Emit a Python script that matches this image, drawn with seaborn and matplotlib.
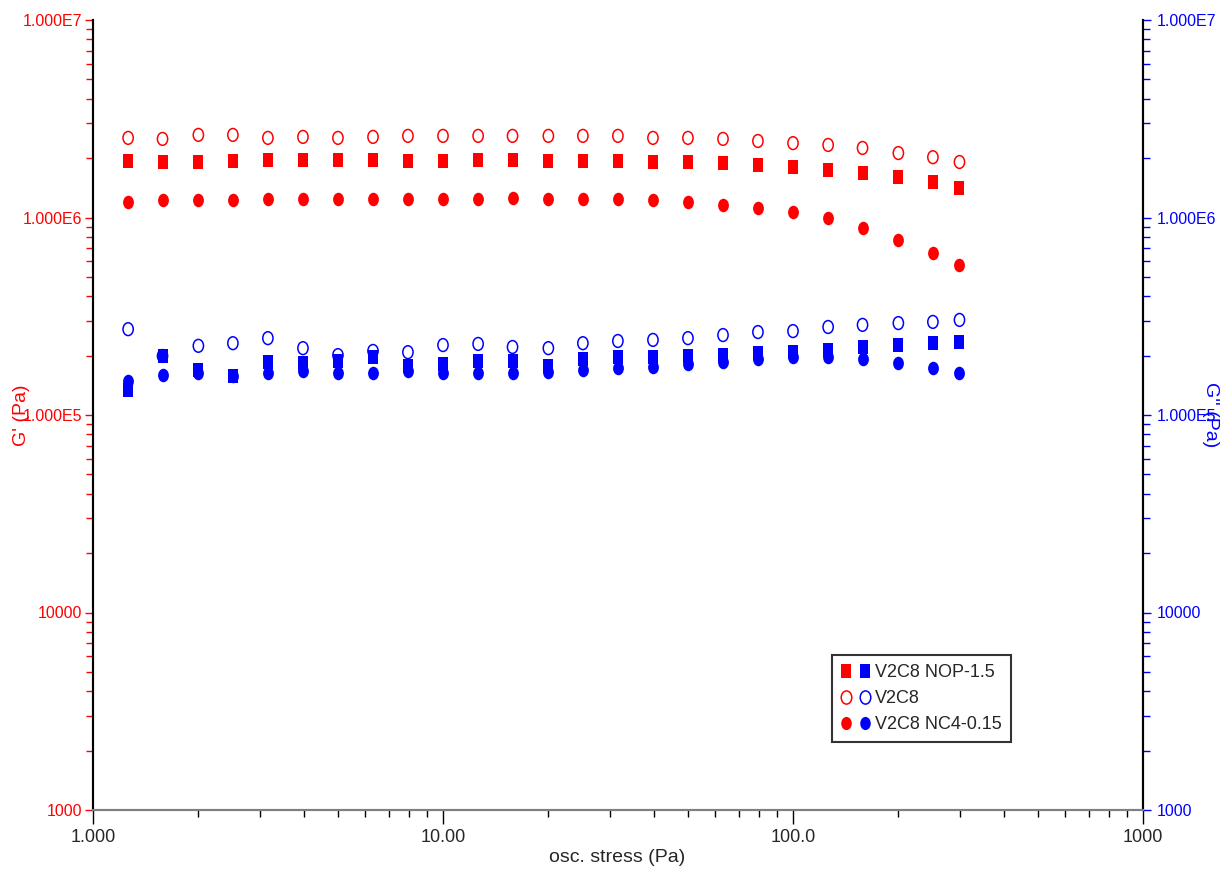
import numpy as np
import pandas as pd
import matplotlib
matplotlib.use("Agg")
import matplotlib.pyplot as plt
import matplotlib.ticker as mticker
from matplotlib.path import Path
from matplotlib.lines import Line2D
from matplotlib.legend_handler import HandlerTuple
import seaborn as sns

# oscillation stress (Pa)
stress = [1.26, 1.58, 2.00, 2.51, 3.16, 3.98, 5.01, 6.31, 7.94, 10.0,
          12.6, 15.8, 20.0, 25.1, 31.6, 39.8, 50.1, 63.1, 79.4, 100.0,
          126.0, 158.0, 200.0, 251.0, 299.0]

samples = ["V2C8 NOP-1.5", "V2C8", "V2C8 NC4-0.15"]

# G' (Pa)
gp_nop = [1.93e6, 1.91e6, 1.91e6, 1.93e6, 1.95e6, 1.95e6, 1.95e6, 1.95e6, 1.93e6, 1.93e6,
          1.95e6, 1.95e6, 1.93e6, 1.93e6, 1.93e6, 1.91e6, 1.91e6, 1.89e6, 1.84e6, 1.80e6,
          1.74e6, 1.68e6, 1.60e6, 1.51e6, 1.41e6]
gp_v2c8 = [2.53e6, 2.50e6, 2.62e6, 2.62e6, 2.53e6, 2.56e6, 2.53e6, 2.56e6, 2.59e6, 2.59e6,
           2.59e6, 2.59e6, 2.59e6, 2.59e6, 2.59e6, 2.53e6, 2.53e6, 2.50e6, 2.44e6, 2.38e6,
           2.33e6, 2.25e6, 2.12e6, 2.02e6, 1.91e6]
gp_nc4 = [1.20e6, 1.23e6, 1.23e6, 1.23e6, 1.24e6, 1.24e6, 1.24e6, 1.24e6, 1.24e6, 1.24e6,
          1.24e6, 1.26e6, 1.24e6, 1.24e6, 1.24e6, 1.23e6, 1.20e6, 1.16e6, 1.12e6, 1.07e6,
          1.00e6, 8.85e5, 7.69e5, 6.61e5, 5.75e5]

# G'' (Pa)
gpp_nop = [1.34e5, 1.99e5, 1.69e5, 1.58e5, 1.86e5, 1.83e5, 1.88e5, 1.97e5, 1.77e5, 1.81e5,
           1.88e5, 1.88e5, 1.77e5, 1.92e5, 1.97e5, 1.97e5, 1.99e5, 2.01e5, 2.06e5, 2.08e5,
           2.13e5, 2.21e5, 2.26e5, 2.31e5, 2.34e5]
gpp_v2c8 = [2.72e5, 1.99e5, 2.24e5, 2.31e5, 2.45e5, 2.18e5, 2.01e5, 2.11e5, 2.08e5, 2.26e5,
            2.29e5, 2.21e5, 2.18e5, 2.31e5, 2.37e5, 2.40e5, 2.45e5, 2.54e5, 2.63e5, 2.66e5,
            2.79e5, 2.86e5, 2.92e5, 2.96e5, 3.03e5]
gpp_nc4 = [1.49e5, 1.59e5, 1.63e5, 1.58e5, 1.63e5, 1.67e5, 1.63e5, 1.63e5, 1.67e5, 1.63e5,
           1.63e5, 1.63e5, 1.65e5, 1.69e5, 1.73e5, 1.75e5, 1.81e5, 1.86e5, 1.92e5, 1.97e5,
           1.97e5, 1.92e5, 1.83e5, 1.73e5, 1.63e5]

xticks = [1, 10, 100, 1000]
xticklabels = ["1.000", "10.00", "100.0", "1000"]
yticks = [1e3, 1e4, 1e5, 1e6, 1e7]
yticklabels = ["1000", "10000", "1.000E5", "1.000E6", "1.000E7"]

RED = "#ff0000"
BLUE = "#0000ff"

sns.set_style("ticks")
plt.rcParams["font.family"] = ["Liberation Sans", "DejaVu Sans"]

# slightly tall ellipse and rectangle markers
circ = Path.unit_circle()
ellipse = Path(circ.vertices * np.array([0.8, 1.0]), circ.codes)
rect = Path([(-0.4, -0.5), (0.4, -0.5), (0.4, 0.5), (-0.4, 0.5), (-0.4, -0.5)],
            [Path.MOVETO, Path.LINETO, Path.LINETO, Path.LINETO, Path.CLOSEPOLY])

fig = plt.figure(figsize=(12.2, 8.69), dpi=100)
ax = fig.add_axes([93 / 1220, 59 / 869, 1050 / 1220, 790 / 869])
ax2 = ax.twinx()

df = pd.DataFrame({"stress": stress,
                   "gp_nop": gp_nop, "gp_v2c8": gp_v2c8, "gp_nc4": gp_nc4,
                   "gpp_nop": gpp_nop, "gpp_v2c8": gpp_v2c8, "gpp_nc4": gpp_nc4})

series = [("nop", rect, True), ("v2c8", ellipse, False), ("nc4", ellipse, True)]
for axis, prefix, col in [(ax, "gp_", RED), (ax2, "gpp_", BLUE)]:
    for key, mk, filled in series:
        if filled:
            sns.scatterplot(data=df, x="stress", y=prefix + key, ax=axis, marker=mk,
                            color=col, edgecolor=col, linewidth=0, s=95, zorder=3)
        else:
            sns.scatterplot(data=df, x="stress", y=prefix + key, ax=axis, marker=mk,
                            color=col, facecolor="none", edgecolor=col, linewidth=1.1,
                            s=85, zorder=3)

for axis in (ax, ax2):
    axis.set_xscale("log")
    axis.set_yscale("log")
    axis.set_xlim(1, 1000)
    axis.set_ylim(1e3, 1e7)
    axis.set_xlabel("")
    axis.set_ylabel("")

ax.set_xticks(xticks)
ax.set_xticklabels(xticklabels, fontsize=13)
ax.xaxis.set_minor_locator(mticker.LogLocator(base=10, subs=np.arange(2, 10)))
ax.xaxis.set_minor_formatter(mticker.NullFormatter())
ax.tick_params(axis="x", which="major", length=10, width=1, color="black", direction="out")
ax.tick_params(axis="x", which="minor", length=5, width=1, color="black", direction="out")

ax.set_yticks(yticks)
ax.set_yticklabels(yticklabels, fontsize=11.5, color=RED)
ax.yaxis.set_minor_locator(mticker.LogLocator(base=10, subs=np.arange(2, 10)))
ax.yaxis.set_minor_formatter(mticker.NullFormatter())
ax.tick_params(axis="y", which="major", length=6, width=1, colors=RED, direction="out", pad=2)
ax.tick_params(axis="y", which="minor", length=5, width=1, color=RED, direction="out")

ax2.set_yticks(yticks)
ax2.set_yticklabels(yticklabels, fontsize=11.5, color=BLUE)
ax2.yaxis.set_minor_locator(mticker.LogLocator(base=10, subs=np.arange(2, 10)))
ax2.yaxis.set_minor_formatter(mticker.NullFormatter())
ax2.tick_params(axis="y", which="major", length=6, width=1, colors=BLUE, direction="out", pad=4)
ax2.tick_params(axis="y", which="minor", length=5, width=1, color=BLUE, direction="out")

for a in (ax, ax2):
    a.spines["top"].set_visible(False)
    a.spines["left"].set_color("black")
    a.spines["right"].set_color("black")
    a.spines["bottom"].set_color("#808080")
    a.spines["left"].set_linewidth(1.5)
    a.spines["right"].set_linewidth(1.5)
    a.spines["bottom"].set_linewidth(1.5)

fig.text(617 / 1220, 1 - 858 / 869, "osc. stress (Pa)", fontsize=14, ha="center", va="center")
fig.text(22 / 1220, 1 - 415 / 869, "G' (Pa)", fontsize=14, color=RED, rotation=90,
         ha="center", va="center")
fig.text(1210 / 1220, 1 - 415 / 869, "G'' (Pa)", fontsize=14, color=BLUE, rotation=270,
         ha="center", va="center")

handles = []
for key, mk, filled in series:
    pair = []
    for col in (RED, BLUE):
        pair.append(Line2D([], [], linestyle="none", marker=mk, markersize=9.5,
                           markerfacecolor=col if filled else "none",
                           markeredgecolor=col, markeredgewidth=0 if filled else 1.1))
    handles.append(tuple(pair))

leg = fig.legend(handles, samples, handler_map={tuple: HandlerTuple(ndivide=None, pad=0.4)},
                 loc="upper left", bbox_to_anchor=(832 / 1220, 1 - 655 / 869),
                 fontsize=13, frameon=True, fancybox=False, handlelength=1.6,
                 handletextpad=0.3, borderpad=0.5, labelspacing=0.5, borderaxespad=0)
leg.get_frame().set_edgecolor("black")
leg.get_frame().set_linewidth(1.5)

fig.savefig("out.png", dpi=100)
